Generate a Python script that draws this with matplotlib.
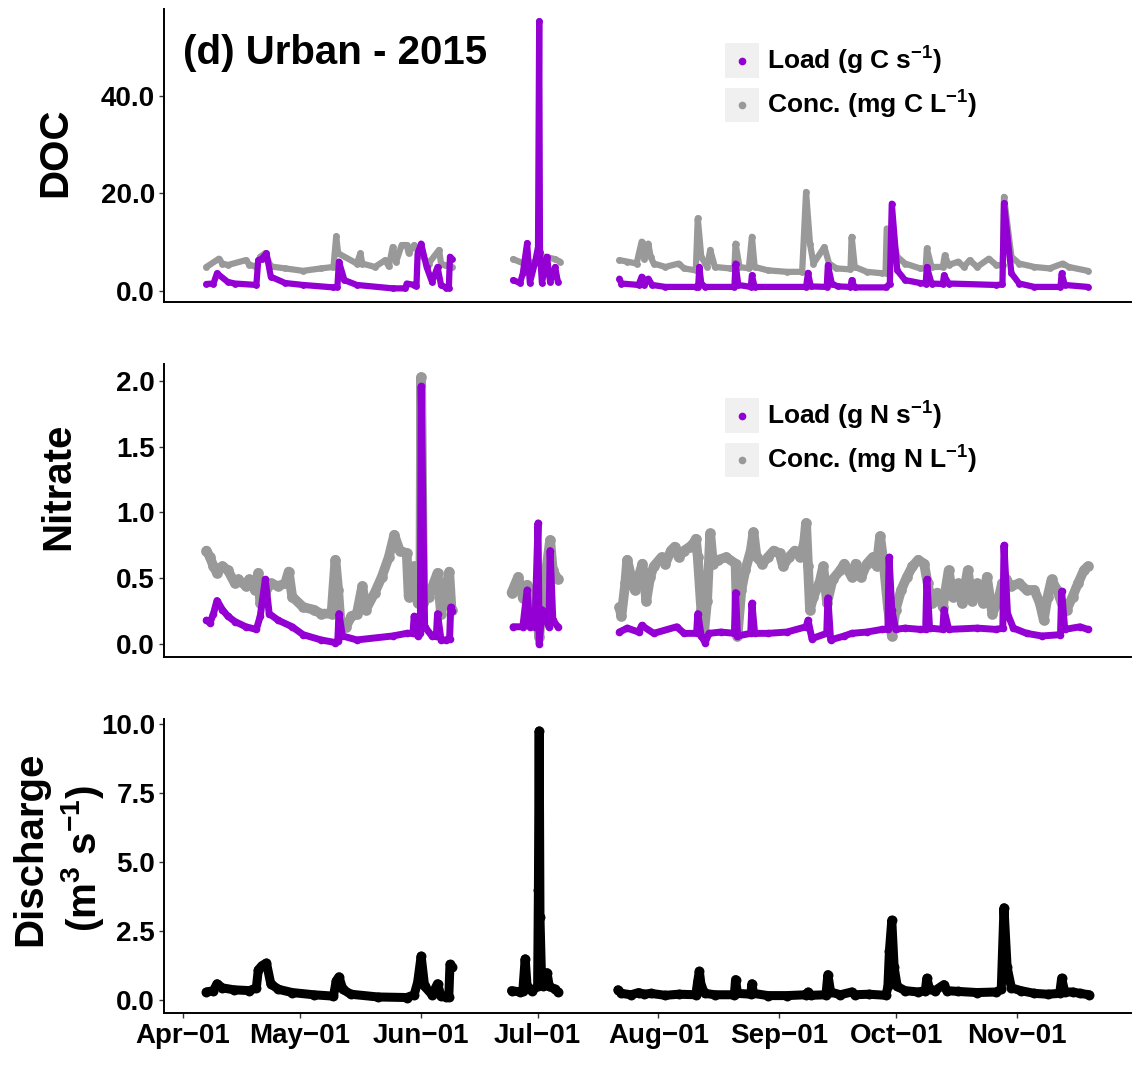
import numpy as np
import pandas as pd
import matplotlib
matplotlib.use("Agg")
import matplotlib.pyplot as plt
import matplotlib.dates as mdates
from matplotlib.lines import Line2D
from matplotlib.patches import Rectangle
from matplotlib.legend_handler import HandlerBase

plt.rcParams['font.family'] = ['Liberation Sans', 'DejaVu Sans']
plt.rcParams['font.weight'] = 'bold'
plt.rcParams['mathtext.fontset'] = 'custom'
plt.rcParams['mathtext.rm'] = 'Liberation Sans:bold'
plt.rcParams['mathtext.it'] = 'Liberation Sans:bold'
plt.rcParams['mathtext.bf'] = 'Liberation Sans:bold'
plt.rcParams['mathtext.default'] = 'rm'

start = pd.Timestamp('2015-04-01')   # day 0 of the series

# (day since Apr 1, value)
doc_conc_pts = [
    (6.0, 4.9), (9.2, 6.6), (10.1, 5.6), (11.5, 5.3), (16.1, 6.3), (17.0, 5.4), (18.8, 4.9), (19.8, 7.0),
    (21.1, 7.7), (22.5, 5.0), (26.2, 4.6), (30.8, 4.1), (35.4, 4.6), (38.6, 4.9), (39.3, 11.2), (39.8, 7.7),
    (44.6, 5.6), (45.5, 7.7), (46.0, 5.6), (49.2, 4.9), (51.9, 6.3), (52.8, 5.0), (53.8, 9.0), (54.7, 6.0),
    (56.1, 9.4), (57.4, 9.4), (57.9, 7.7), (59.3, 9.4), (60.7, 7.7), (63.0, 5.6), (65.7, 8.4), (66.2, 5.6),
    (67.1, 5.3), (68.9, 4.9),
    (84.7, 6.5), (87.8, 5.5), (90.3, 6.0), (92.9, 7.0), (95.5, 6.5), (96.7, 6.0),
    (112.0, 6.3), (114.0, 6.0), (116.4, 5.6), (117.7, 10.1), (118.4, 6.6), (119.4, 9.7), (120.0, 7.0),
    (120.8, 5.6), (123.8, 4.9), (127.2, 5.6), (128.6, 4.6), (131.6, 4.2), (132.1, 14.9), (133.0, 7.0),
    (134.5, 4.9), (135.3, 8.4), (136.5, 4.9), (140.4, 4.6), (141.5, 4.6), (141.8, 9.7), (142.8, 4.9),
    (145.2, 4.6), (146.0, 11.1), (146.7, 4.9), (150.1, 4.2), (155.0, 3.9), (158.9, 3.9), (159.9, 20.3),
    (160.9, 9.7), (161.8, 5.6), (164.6, 9.0), (165.8, 5.6), (167.7, 4.6), (171.3, 4.4), (171.6, 11.1),
    (172.4, 4.9), (175.5, 3.9), (179.4, 3.6), (180.3, 3.7), (180.6, 12.8), (181.9, 11.8), (183.3, 7.0),
    (185.3, 5.6), (189.2, 4.6), (190.6, 4.6), (190.9, 8.7), (192.1, 4.9), (195.0, 4.9), (195.5, 7.3),
    (196.5, 5.3), (199.0, 6.0), (200.4, 4.9), (201.9, 6.3), (203.8, 4.9), (206.8, 6.6), (208.7, 5.3),
    (210.4, 5.2), (210.7, 19.3), (212.6, 7.0), (214.6, 5.6), (218.5, 4.9), (222.4, 4.6), (225.8, 5.6),
    (227.3, 4.9), (232.2, 4.1)]

doc_load_pts = [
    (6.0, 1.4), (7.8, 1.5), (8.7, 3.6), (11.5, 1.8), (13.3, 1.5), (18.8, 1.2), (19.3, 6.3), (20.2, 6.6),
    (21.4, 7.7), (22.5, 2.9), (26.2, 1.6), (30.8, 1.2), (38.6, 0.7), (39.6, 0.8), (40.0, 6.0), (41.4, 2.2),
    (44.6, 1.2), (53.8, 0.5), (57.0, 0.5), (57.4, 1.5), (59.3, 1.2), (59.9, 1.0), (60.2, 7.7), (61.1, 9.7),
    (62.5, 4.9), (63.9, 1.8), (65.3, 4.9), (66.2, 1.2), (67.6, 0.6), (68.2, 0.6), (68.5, 7.0), (68.9, 6.5),
    (84.7, 2.2), (86.5, 1.6), (87.2, 3.6), (88.3, 9.8), (89.0, 1.6), (90.3, 5.7), (91.1, 9.0), (91.4, 55.4),
    (91.6, 8.0), (92.1, 1.6), (93.4, 7.0), (94.2, 1.8), (95.5, 4.9), (96.2, 1.8),
    (112.0, 2.5), (112.5, 1.5), (116.9, 1.2), (117.7, 2.9), (118.4, 1.2), (119.4, 2.5), (120.4, 1.2),
    (123.8, 0.8), (131.6, 0.8), (132.2, 0.8), (132.5, 4.9), (133.0, 1.5), (134.0, 0.8), (141.5, 0.8),
    (141.8, 5.6), (142.5, 1.2), (145.7, 0.8), (146.0, 3.2), (146.7, 0.8), (159.9, 0.8), (160.4, 3.7),
    (161.1, 0.9), (165.2, 0.8), (165.5, 5.3), (166.5, 1.5), (168.0, 0.9), (171.3, 0.8), (171.6, 2.2),
    (172.4, 0.7), (180.4, 0.7), (181.4, 1.5), (181.9, 17.9), (183.3, 4.2), (185.3, 2.2), (189.2, 1.6),
    (190.6, 1.5), (190.9, 4.9), (192.1, 1.5), (195.0, 1.4), (195.3, 3.2), (196.5, 1.5), (208.7, 1.2),
    (210.3, 1.3), (210.7, 18.0), (212.6, 3.6), (214.6, 1.5), (218.5, 0.8), (225.2, 0.8), (225.5, 3.6),
    (226.3, 1.2), (232.2, 0.8)]

no3_conc_pts = [
    (6.0, 0.71), (6.9, 0.66), (7.8, 0.59), (8.7, 0.54), (10.1, 0.59), (11.5, 0.56), (13.3, 0.46),
    (14.2, 0.49), (16.1, 0.44), (17.0, 0.49), (18.4, 0.41), (19.3, 0.54), (19.8, 0.31), (21.1, 0.39),
    (22.5, 0.46), (24.4, 0.44), (26.2, 0.46), (27.1, 0.55), (28.0, 0.36), (30.8, 0.28), (33.5, 0.26),
    (35.4, 0.23), (38.1, 0.23), (39.1, 0.64), (39.8, 0.41), (40.4, 0.16), (41.8, 0.13), (43.2, 0.21),
    (44.6, 0.23), (46.0, 0.44), (46.9, 0.26), (49.2, 0.39), (51.0, 0.51), (52.8, 0.66), (54.2, 0.83),
    (55.6, 0.71), (57.4, 0.69), (57.9, 0.36), (58.4, 0.56), (59.3, 0.59), (60.2, 0.31), (60.9, 0.31),
    (61.1, 2.03), (61.6, 0.31), (63.0, 0.36), (64.3, 0.46), (65.3, 0.54), (66.2, 0.23), (67.1, 0.36),
    (68.3, 0.55), (68.9, 0.26),
    (84.3, 0.39), (86.0, 0.51), (87.2, 0.35), (88.3, 0.45), (90.8, 0.24), (91.4, 0.05), (92.1, 0.30),
    (94.2, 0.79), (94.9, 0.56), (96.2, 0.49),
    (112.0, 0.28), (112.5, 0.21), (113.5, 0.46), (114.0, 0.64), (115.0, 0.51), (115.9, 0.41), (116.9, 0.51),
    (117.9, 0.61), (118.9, 0.33), (119.9, 0.51), (120.8, 0.59), (122.8, 0.66), (123.8, 0.61), (125.2, 0.71),
    (126.2, 0.74), (127.2, 0.66), (128.6, 0.71), (130.1, 0.74), (131.1, 0.77), (131.6, 0.80), (132.1, 0.66),
    (133.0, 0.26), (133.7, 0.08), (134.5, 0.33), (135.3, 0.84), (136.0, 0.61), (137.4, 0.64), (139.4, 0.66),
    (141.8, 0.61), (142.3, 0.06), (143.3, 0.41), (144.3, 0.56), (145.7, 0.71), (146.4, 0.85), (147.2, 0.66),
    (148.7, 0.61), (150.1, 0.66), (151.6, 0.71), (153.1, 0.69), (154.0, 0.59), (155.5, 0.66), (157.0, 0.71),
    (158.4, 0.66), (159.4, 0.77), (159.9, 0.92), (160.4, 0.59), (160.9, 0.26), (161.8, 0.36), (163.3, 0.46),
    (164.3, 0.59), (165.3, 0.31), (166.7, 0.49), (168.7, 0.56), (169.7, 0.61), (171.6, 0.51), (172.6, 0.61),
    (174.1, 0.51), (175.5, 0.61), (177.0, 0.66), (178.0, 0.59), (178.9, 0.82), (179.9, 0.59), (180.9, 0.28),
    (181.9, 0.06), (182.9, 0.26), (184.3, 0.41), (185.8, 0.51), (187.2, 0.59), (188.7, 0.64), (190.2, 0.61),
    (191.1, 0.46), (192.1, 0.31), (193.6, 0.39), (195.0, 0.28), (196.5, 0.56), (197.5, 0.36), (199.0, 0.46),
    (199.9, 0.31), (201.4, 0.56), (202.4, 0.33), (203.8, 0.46), (205.3, 0.31), (206.3, 0.51), (207.7, 0.23),
    (209.2, 0.33), (210.2, 0.46), (211.2, 0.49), (212.6, 0.44), (214.6, 0.46), (216.5, 0.41), (218.5, 0.41),
    (219.9, 0.31), (220.9, 0.18), (221.9, 0.36), (222.9, 0.49), (224.3, 0.41), (225.5, 0.31), (226.8, 0.26),
    (228.3, 0.36), (229.7, 0.46), (231.2, 0.56), (232.2, 0.59)]

no3_load_pts = [
    (6.0, 0.18), (6.9, 0.16), (7.8, 0.23), (8.7, 0.33), (10.1, 0.26), (11.5, 0.21), (13.3, 0.17),
    (16.1, 0.13), (18.8, 0.11), (19.8, 0.21), (21.1, 0.49), (22.1, 0.23), (24.4, 0.18), (28.0, 0.13),
    (30.8, 0.07), (35.4, 0.03), (39.1, 0.01), (39.7, 0.02), (40.0, 0.23), (40.9, 0.06), (44.6, 0.03),
    (53.8, 0.06), (57.4, 0.08), (59.0, 0.08), (59.3, 0.21), (60.2, 0.06), (60.9, 0.08), (61.1, 1.96),
    (62.0, 0.13), (63.9, 0.06), (65.0, 0.06), (65.3, 0.23), (66.2, 0.03), (67.6, 0.03), (68.4, 0.04),
    (68.7, 0.28), (69.0, 0.25),
    (84.7, 0.13), (87.2, 0.13), (88.3, 0.41), (89.0, 0.13), (90.3, 0.13), (91.1, 0.92), (91.4, 0.00),
    (92.1, 0.26), (93.9, 0.13), (94.2, 0.71), (94.9, 0.18), (96.2, 0.13),
    (112.0, 0.09), (114.0, 0.12), (116.9, 0.09), (117.7, 0.14), (120.8, 0.08), (126.7, 0.13), (128.6, 0.08),
    (131.8, 0.08), (132.1, 0.23), (133.0, 0.06), (134.0, 0.01), (135.0, 0.08), (138.0, 0.09), (141.5, 0.08),
    (141.8, 0.39), (142.3, 0.06), (145.7, 0.08), (146.0, 0.31), (146.7, 0.08), (150.1, 0.08), (155.0, 0.09),
    (159.9, 0.13), (160.4, 0.18), (161.4, 0.04), (165.2, 0.08), (165.5, 0.35), (166.2, 0.03), (169.7, 0.06),
    (171.6, 0.08), (175.5, 0.09), (179.4, 0.11), (180.9, 0.11), (181.2, 0.66), (181.9, 0.26), (182.9, 0.11),
    (185.3, 0.12), (189.2, 0.11), (190.6, 0.11), (190.9, 0.49), (191.6, 0.12), (195.0, 0.11), (195.3, 0.26),
    (196.5, 0.11), (203.8, 0.12), (208.7, 0.11), (210.4, 0.12), (210.7, 0.75), (211.6, 0.23), (213.1, 0.12),
    (216.5, 0.08), (220.4, 0.06), (225.2, 0.07), (225.5, 0.40), (226.3, 0.11), (230.2, 0.13), (232.2, 0.11)]

discharge_pts = [
    (6.0, 0.30), (7.8, 0.35), (8.7, 0.60), (10.1, 0.45), (13.0, 0.38), (17.0, 0.35), (18.8, 0.45),
    (19.3, 1.10), (20.2, 1.25), (21.4, 1.35), (22.5, 0.60), (24.4, 0.40), (28.0, 0.28), (33.5, 0.20),
    (38.6, 0.15), (39.3, 0.70), (40.0, 0.85), (41.0, 0.40), (43.0, 0.22), (50.0, 0.12), (57.4, 0.10),
    (59.3, 0.20), (60.2, 0.65), (61.1, 1.60), (62.0, 0.50), (63.9, 0.20), (65.3, 0.60), (66.2, 0.15),
    (67.6, 0.12), (68.2, 0.12), (68.5, 1.30), (68.9, 1.20),
    (84.3, 0.35), (86.5, 0.30), (87.2, 0.35), (87.8, 1.50), (88.3, 0.50), (89.5, 0.35), (91.0, 0.50),
    (91.2, 4.00), (91.4, 9.75), (91.6, 3.00), (92.0, 0.80), (92.5, 0.50), (93.4, 1.00), (94.0, 0.50),
    (95.5, 0.40), (96.2, 0.30),
    (111.6, 0.38), (112.5, 0.25), (115.0, 0.20), (116.9, 0.28), (118.4, 0.22), (120.0, 0.25), (123.8, 0.18),
    (127.2, 0.22), (131.6, 0.20), (132.1, 0.70), (132.5, 1.05), (133.0, 0.50), (134.0, 0.25), (136.5, 0.20),
    (141.5, 0.20), (141.8, 0.75), (142.3, 0.25), (145.7, 0.22), (146.0, 0.60), (146.4, 0.25), (150.1, 0.17),
    (155.0, 0.17), (159.9, 0.20), (160.4, 0.30), (161.1, 0.18), (165.0, 0.20), (165.5, 0.93), (166.2, 0.30),
    (168.7, 0.20), (171.6, 0.30), (172.4, 0.20), (176.0, 0.22), (180.4, 0.18), (180.9, 0.50), (181.3, 1.80),
    (181.9, 2.90), (182.5, 1.20), (183.3, 0.50), (185.3, 0.35), (188.7, 0.30), (190.5, 0.35), (190.9, 0.80),
    (191.6, 0.40), (193.0, 0.35), (195.3, 0.57), (196.0, 0.35), (199.0, 0.32), (203.8, 0.28), (208.7, 0.30),
    (210.0, 0.40), (210.7, 3.35), (211.5, 1.20), (212.6, 0.45), (215.0, 0.35), (218.5, 0.25), (221.9, 0.22),
    (225.0, 0.25), (225.5, 0.80), (226.3, 0.30), (228.3, 0.30), (230.2, 0.25), (232.6, 0.20)]

month_ticks = ['2015-04-01', '2015-05-01', '2015-06-01', '2015-07-01',
               '2015-08-01', '2015-09-01', '2015-10-01', '2015-11-01']

purple = '#9400D3'
grey = '#999999'


def draw(ax, pts, color, lw):
    days, vals = np.array(pts, float).T
    # the sensor was offline for two ~2 week stretches; don't bridge them
    cuts = np.where(np.diff(days) > 14)[0] + 1
    for d, v in zip(np.split(days, cuts), np.split(vals, cuts)):
        t = start + pd.to_timedelta(d, unit='D')
        ax.plot(t, v, color=color, lw=lw, marker='o', ms=lw * 1.1, mew=0,
                solid_joinstyle='round', solid_capstyle='round')


class KeyBox(HandlerBase):
    # grey key background with a small dot, like ggplot legends
    def create_artists(self, legend, orig_handle, xdescent, ydescent, width, height, fontsize, trans):
        bg = Rectangle((-xdescent, -ydescent - 4), width, height + 8, facecolor='#f0f0f0',
                       edgecolor='none', transform=trans)
        dot = Line2D([width / 2 - xdescent], [height / 2 - ydescent], marker='o', ms=4.5,
                     color=orig_handle.get_color(), ls='none', transform=trans)
        return [bg, dot]


fig = plt.figure(figsize=(11.36, 10.67), dpi=100)
W, H = 1136.0, 1067.0
left, width = 164 / W, 967 / W
ax1 = fig.add_axes([left, 1 - 302 / H, width, 293 / H])
ax2 = fig.add_axes([left, 1 - 657 / H, width, 293 / H])
ax3 = fig.add_axes([left, 1 - 1013 / H, width, 294 / H])

x0 = start + pd.Timedelta(days=-4.9)
x1 = start + pd.Timedelta(days=243.3)

for ax in (ax1, ax2, ax3):
    ax.set_xlim(x0, x1)
    for s in ('top', 'right'):
        ax.spines[s].set_visible(False)
    for s in ('left', 'bottom'):
        ax.spines[s].set_linewidth(1.4)
        ax.spines[s].set_color('black')
    ax.tick_params(axis='y', labelsize=20, length=3.6, width=1.0, color='#333333', pad=2.8)

draw(ax1, doc_conc_pts, grey, 4.5)
draw(ax1, doc_load_pts, purple, 4.5)
ax1.set_ylim(-2.3, 57.9)
ax1.set_yticks([0, 20, 40])
ax1.set_yticklabels(['0.0', '20.0', '40.0'])

draw(ax2, no3_conc_pts, grey, 7.0)
draw(ax2, no3_load_pts, purple, 5.0)
ax2.set_ylim(-0.1, 2.13)
ax2.set_yticks([0, 0.5, 1.0, 1.5, 2.0])
ax2.set_yticklabels(['0.0', '0.5', '1.0', '1.5', '2.0'])

draw(ax3, discharge_pts, 'black', 6.5)
ax3.set_ylim(-0.46, 10.18)
ax3.set_yticks([0, 2.5, 5.0, 7.5, 10.0])
ax3.set_yticklabels(['0.0', '2.5', '5.0', '7.5', '10.0'])

for ax in (ax1, ax2):
    ax.tick_params(axis='x', bottom=False, labelbottom=False)

ax3.set_xticks(pd.to_datetime(month_ticks))
ax3.xaxis.set_major_formatter(mdates.DateFormatter('%b\u221201'))
ax3.tick_params(axis='x', labelsize=20, length=3.6, width=1.0, color='#333333', pad=3.6)

for ax in (ax1, ax2, ax3):
    for lab in ax.get_xticklabels() + ax.get_yticklabels():
        lab.set_fontweight('bold')
        lab.set_color('black')

ax1.text(0.0196, 0.85, '(d) Urban - 2015', transform=ax1.transAxes, fontsize=29,
         fontweight='bold', ha='left', va='center')

# legends
for ax, el in ((ax1, 'C'), (ax2, 'N')):
    h = [Line2D([], [], color=purple), Line2D([], [], color=grey)]
    labels = ['Load (g %s s$^{-1}$)' % el, 'Conc. (mg %s L$^{-1}$)' % el]
    ax.legend(h, labels, handler_map={Line2D: KeyBox()}, loc='upper left',
              bbox_to_anchor=(0.580, 0.877), frameon=False, borderpad=0, borderaxespad=0,
              handlelength=1.3, handleheight=1.0, labelspacing=0.45,
              handletextpad=0.3, prop={'weight': 'bold', 'size': 19})

fig.text(55 / W, 1 - 152 / H, 'DOC', rotation=90, ha='center', va='center',
         fontsize=29, fontweight='bold')
fig.text(58 / W, 1 - 486 / H, 'Nitrate', rotation=90, ha='center', va='center',
         fontsize=29, fontweight='bold')
fig.text(30 / W, 1 - 849 / H, 'Discharge', rotation=90, ha='center', va='center',
         fontsize=29, fontweight='bold')
fig.text(82 / W, 1 - 858 / H, '(m$^{3}$ s$^{-1}$)', rotation=90, ha='center', va='center',
         fontsize=29, fontweight='bold')

fig.savefig('out.png', dpi=100, facecolor='white')
